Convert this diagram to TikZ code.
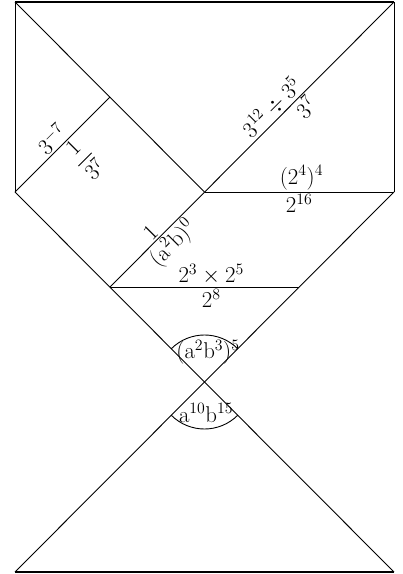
\documentclass[tikz,border=0pt]{standalone}
\usepackage{amsmath}
\begin{document}
\begin{tikzpicture}[x=1pt,y=1pt,line width=0.9pt,
  lab/.style={font=\huge, inner sep=1.5pt, scale=1.1},
  edge/.style={line width=1.3pt}]
\useasboundingbox (0,0) rectangle (403,574);
% corner and crossing points
\coordinate (TL) at (15,572);
\coordinate (TR) at (394,572);
\coordinate (LM) at (15,382);
\coordinate (RM) at (394,382);
\coordinate (C1) at (204.5,382);
\coordinate (Q)  at (110,477);
\coordinate (P)  at (110,287);
\coordinate (R)  at (299.25,287);
\coordinate (X)  at (204.5,192);
\coordinate (BL) at (15,2);
\coordinate (BR) at (394,2);
% outline and lines
\draw[edge] (TL) -- (TR);
\draw (TR) -- (RM);
\draw (TL) -- (LM);
\draw (TL) -- (C1);
\draw (TR) -- (P);
\draw (LM) -- (Q);
\draw (C1) -- (RM);
\draw (LM) -- (BR);
\draw (RM) -- (BL);
\draw (P) -- (R);
\draw[edge] (BL) -- (BR);
% angle arcs
\draw ([shift={(45:47pt)}]X) arc[start angle=45, end angle=135, radius=47pt];
\draw ([shift={(225:47pt)}]X) arc[start angle=225, end angle=315, radius=47pt];
% labels
\path (LM) -- (Q)
  node[lab, pos=0.47, sloped, above] (l1) {$3^{-7}$}
  node[lab, pos=0.54, sloped, below] (l2) {$\dfrac{1}{3^7}$};
\path (C1) -- (TR)
  node[lab, pos=0.40, sloped, above] (l3) {$3^{12}\div 3^5$}
  node[lab, pos=0.49, sloped, below] (l4) {$3^7$};
\path (C1) -- (RM)
  node[lab, midway, above, xshift=2pt] (l5) {$(2^4)^4$}
  node[lab, midway, below] (l6) {$2^{16}$};
\path (P) -- (C1)
  node[lab, pos=0.5, sloped, above] (l7) {$1$}
  node[lab, pos=0.56, sloped, below] (l8) {$(\mathrm{a}^2\mathrm{b})^0$};
\path (P) -- (R)
  node[lab, midway, above, xshift=6pt] (l9) {$2^3\times 2^5$}
  node[lab, midway, below, xshift=6pt] (l10) {$2^8$};
\node[lab] (l11) at (208,222) {$(\mathrm{a}^2\mathrm{b}^3)^5$};
\node[lab] (l12) at (206,161) {$\mathrm{a}^{10}\mathrm{b}^{15}$};
\end{tikzpicture}
\end{document}
